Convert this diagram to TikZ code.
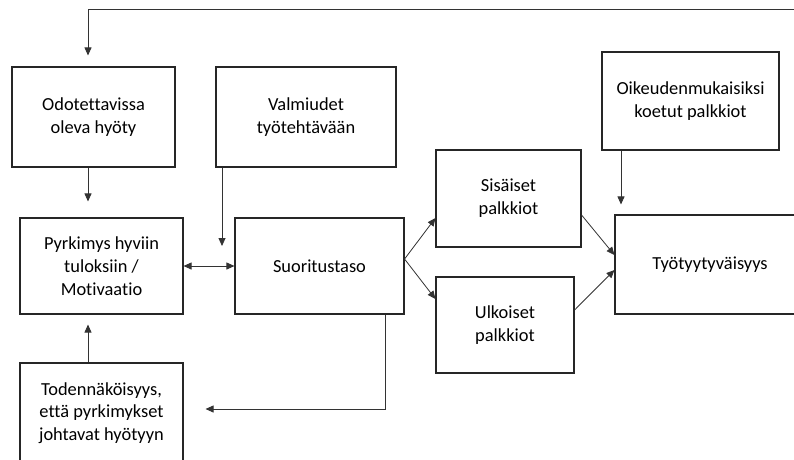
\documentclass[tikz,border=0pt]{standalone}
\usepackage{fontspec}
\setmainfont[Ligatures=NoCommon]{Carlito}
\usetikzlibrary{arrows.meta}
\begin{document}
\begin{tikzpicture}[x=1pt,y=-1pt,
  box/.style={draw=black!85, line width=1.1pt, rectangle, align=center, inner sep=2pt,
    font=\fontsize{18.4}{22.8}\selectfont},
  arr/.style={draw=black!80, line width=0.8pt, -{Triangle[length=8pt,width=7pt]}},
  arrtwo/.style={draw=black!80, line width=0.8pt, {Triangle[length=8pt,width=7pt]}-{Triangle[length=8pt,width=7pt]}},
  ln/.style={draw=black!80, line width=0.8pt}]
\useasboundingbox (0,0) rectangle (794,459);
\clip (0,0) rectangle (794,459);
\fill[white] (0,0) rectangle (794,459);

\node[box, minimum width=163pt, minimum height=100pt] (odo) at (93.5,117) {Odotettavissa\\oleva hyöty};
\node[box, minimum width=180pt, minimum height=100pt] (valm) at (306,117) {Valmiudet\\työtehtävään};
\node[box, minimum width=163pt, minimum height=96pt] (pyr) at (101.5,266) {Pyrkimys hyviin\\tuloksiin /\\Motivaatio};
\node[box, minimum width=169pt, minimum height=96pt] (suor) at (319.5,266) {Suoritustaso};
\node[box, minimum width=163pt, minimum height=100pt] (tod) at (101.5,413) {Todennäköisyys,\\että pyrkimykset\\johtavat hyötyyn};
\node[box, minimum width=145pt, minimum height=97pt] (sis) at (508.5,198.5) {Sisäiset\\palkkiot};
\node[box, minimum width=138pt, minimum height=96pt] (ulk) at (505,325) {Ulkoiset\\palkkiot};
\node[box, minimum width=177pt, minimum height=98pt] (oik) at (690.5,101) {Oikeudenmukaisiksi\\koetut palkkiot};
\node[box, minimum width=190pt, minimum height=99pt] (tyo) at (710,264.5) {Työtyytyväisyys};

\coordinate (fbR) at (800,9);
\coordinate (fbL) at (88,9);
\coordinate (vx) at (222,0);
\coordinate (sx) at (385,409);
\coordinate (ox) at (621,0);

\draw[arr, shorten >=11pt] (fbR) -- (fbL) -- (odo.north -| fbL);
\draw[arr, shorten >=16pt] (odo.south -| fbL) -- (pyr.north -| fbL);
\draw[arr, shorten >=20pt] (valm.south -| vx) -- (vx |- pyr.east);
\draw[arrtwo] (pyr.east) -- (suor.west);
\draw[arr, shorten >=10pt] (tod.north -| fbL) -- (pyr.south -| fbL);
\draw[arr, shorten >=22pt] (suor.south -| sx) -- (sx) -- (tod.east |- sx);
\draw[arr] ([yshift=7pt]suor.east) -- ([yshift=-19.5pt]sis.west);
\draw[arr] ([yshift=7pt]suor.east) -- ([yshift=26pt]ulk.west);
\draw[arr] ([yshift=-16.5pt]sis.east) -- ([yshift=9.5pt]tyo.west);
\draw[arr] ([yshift=15pt]ulk.east) -- ([yshift=-5.5pt]tyo.west);
\draw[arr, shorten >=10pt] (oik.south -| ox) -- (ox |- tyo.north);
\end{tikzpicture}
\end{document}
